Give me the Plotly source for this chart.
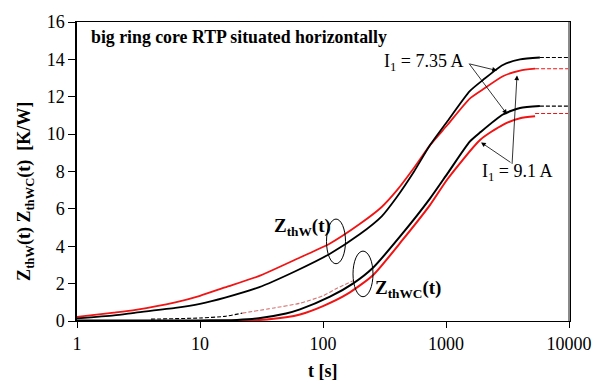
import plotly.graph_objects as go

# ---- data ----
t_w_735 = [1, 2, 3, 6.3, 10, 16, 30, 59, 114, 200, 300, 400, 550, 740, 1030, 1560, 2000, 2900, 4000, 5800]
z_w_735 = [0.14, 0.3, 0.45, 0.7, 0.92, 1.25, 1.8, 2.65, 3.6, 4.65, 5.6, 6.65, 8.0, 9.4, 10.7, 12.3, 12.9, 13.7, 14.0, 14.1]

t_w_91 = [1, 2, 3, 6.3, 10, 16, 30, 65, 114, 200, 300, 400, 550, 740, 1030, 1560, 2000, 2900, 4000, 5300]
z_w_91 = [0.22, 0.45, 0.6, 1.0, 1.35, 1.8, 2.4, 3.4, 4.15, 5.2, 6.1, 7.0, 8.2, 9.4, 10.5, 11.9, 12.4, 13.1, 13.4, 13.5]

t_wc_735 = [1, 5, 10, 15, 20, 30, 50, 65, 114, 175, 255, 445, 740, 1030, 1560, 1900, 2900, 4000, 5800]
z_wc_735 = [0.03, 0.03, 0.03, 0.04, 0.06, 0.15, 0.4, 0.62, 1.3, 2.0, 2.85, 4.7, 6.55, 7.9, 9.6, 10.1, 11.05, 11.4, 11.5]

t_wc_91 = [1, 10, 20, 30, 50, 65, 100, 158, 255, 445, 740, 1030, 1900, 2900, 4000, 5300]
z_wc_91 = [0.0, 0.0, 0.01, 0.05, 0.2, 0.35, 0.8, 1.45, 2.45, 4.35, 6.2, 7.6, 9.7, 10.5, 10.85, 10.95]

# dashed extrapolations
t_ext_w_735 = [5800, 10000]
z_ext_w_735 = [14.1, 14.1]
t_ext_w_91 = [5300, 10000]
z_ext_w_91 = [13.5, 13.5]
t_ext_wc_735 = [5800, 10000]
z_ext_wc_735 = [11.5, 11.5]
t_ext_wc_91 = [5300, 10000]
z_ext_wc_91 = [11.1, 11.1]

t_low_black = [4, 10, 16, 22]
z_low_black = [0.1, 0.16, 0.25, 0.42]
t_low_red = [22, 40, 65, 100, 130, 175]
z_low_red = [0.42, 0.7, 0.95, 1.35, 1.75, 2.15]

x_ticks = [1, 10, 100, 1000, 10000]
y_ticks = [0, 2, 4, 6, 8, 10, 12, 14, 16]

BLACK = "#000000"
RED = "#f01414"
FONT = "Liberation Serif"

fig = go.Figure()

def solid(t, z, color, w):
    fig.add_trace(go.Scatter(x=t, y=z, mode="lines", line=dict(color=color, width=w, shape="spline", smoothing=0.6),
                             showlegend=False, hoverinfo="skip"))

def dashed(t, z, color, w, dash="dash"):
    fig.add_trace(go.Scatter(x=t, y=z, mode="lines", line=dict(color=color, width=w, dash=dash, shape="spline", smoothing=0.6),
                             showlegend=False, hoverinfo="skip"))

dashed(t_low_red, z_low_red, "rgba(200,70,70,0.75)", 1.1, "4px,2px")
dashed(t_low_black, z_low_black, BLACK, 1.1, "4px,2px")
dashed(t_ext_w_735, z_ext_w_735, BLACK, 1.1, "4px,2px")
dashed(t_ext_w_91, z_ext_w_91, RED, 1.1, "4px,2px")
dashed(t_ext_wc_735, z_ext_wc_735, BLACK, 1.1, "4px,2px")
dashed(t_ext_wc_91, z_ext_wc_91, RED, 1.1, "4px,2px")

solid(t_wc_91, z_wc_91, RED, 2.0)
solid(t_wc_735, z_wc_735, BLACK, 2.0)
solid(t_w_91, z_w_91, RED, 1.8)
solid(t_w_735, z_w_735, BLACK, 1.8)

# geometry helpers for annotation placement (plot area in pixels)
L, R, T, B = 77, 569, 13, 321
def px(x):
    return (x - L) / (R - L)
def py(y):
    return (B - y) / (B - T)

annotations = []
annotations.append(dict(text="<b>big ring core RTP situated horizontally</b>", x=px(89), y=py(28), xref="paper", yref="paper",
                        xanchor="left", yanchor="middle", showarrow=False, font=dict(family=FONT, size=17.8, color=BLACK)))
annotations.append(dict(text="I<sub>1</sub> = 7.35 A", x=px(423), y=py(55), xref="paper", yref="paper",
                        xanchor="center", yanchor="middle", showarrow=False, font=dict(family=FONT, size=18, color=BLACK)))
annotations.append(dict(text="I<sub>1</sub> = 9.1 A", x=px(517), y=py(168), xref="paper", yref="paper",
                        xanchor="center", yanchor="middle", showarrow=False, font=dict(family=FONT, size=18, color=BLACK)))
annotations.append(dict(text="<b>Z<sub>thW</sub>(t)</b>", x=px(272), y=py(224), xref="paper", yref="paper",
                        xanchor="left", yanchor="middle", showarrow=False, font=dict(family=FONT, size=19, color=BLACK)))
annotations.append(dict(text="<b>Z<sub>thWC</sub>(t)</b>", x=px(373), y=py(288), xref="paper", yref="paper",
                        xanchor="left", yanchor="middle", showarrow=False, font=dict(family=FONT, size=19, color=BLACK)))
# arrows
for hx, hy, tx, ty in [(497, 63, 468, 56), (507, 108, 468, 56), (481, 137, 512, 158), (517, 68, 512, 158)]:
    annotations.append(dict(text="", x=px(hx), y=py(hy), xref="paper", yref="paper", ax=tx - hx, ay=ty - hy,
                            axref="pixel", ayref="pixel", showarrow=True, arrowhead=2, arrowsize=1.2, arrowwidth=0.8,
                            arrowcolor=BLACK))
# axis titles
annotations.append(dict(text="<b>t [s]</b>", x=px(323), y=py(373), xref="paper", yref="paper",
                        xanchor="center", yanchor="middle", showarrow=False, font=dict(family=FONT, size=18, color=BLACK)))
annotations.append(dict(text="<b>Z<sub>thW</sub>(t) Z<sub>thWC</sub>(t)  [K/W]</b>", x=px(26), y=py(188), xref="paper", yref="paper",
                        xanchor="center", yanchor="middle", textangle=-90, showarrow=False,
                        font=dict(family=FONT, size=18, color=BLACK)))

shapes = [
    dict(type="circle", xref="paper", yref="paper", x0=px(326.5), x1=px(345.5), y0=py(262), y1=py(216),
         line=dict(color=BLACK, width=1)),
    dict(type="circle", xref="paper", yref="paper", x0=px(353), x1=px(373), y0=py(296), y1=py(249),
         line=dict(color=BLACK, width=1)),
    dict(type="line", xref="paper", yref="paper", x0=1, x1=1, y0=0, y1=1, line=dict(color="#8a8a8a", width=2)),
]

fig.update_layout(
    width=605, height=388,
    margin=dict(l=L, r=605 - R, t=T, b=388 - B),
    paper_bgcolor="white", plot_bgcolor="white",
    font=dict(family=FONT, size=18, color=BLACK),
    showlegend=False,
    annotations=annotations,
    shapes=shapes,
)
fig.update_xaxes(type="log", range=[0, 4], tickvals=x_ticks, ticktext=[str(v) for v in x_ticks],
                 ticks="outside", ticklen=6, tickcolor=BLACK, showline=True, linecolor=BLACK, linewidth=1,
                 mirror=True, showgrid=False, zeroline=False, tickfont=dict(family=FONT, size=18))
fig.update_yaxes(range=[0, 16], tickvals=y_ticks, ticks="outside", ticklen=7, tickcolor=BLACK,
                 showline=True, linecolor=BLACK, linewidth=1.5, mirror=True, showgrid=False, zeroline=False,
                 tickfont=dict(family=FONT, size=18))

fig.write_html("out.html")
